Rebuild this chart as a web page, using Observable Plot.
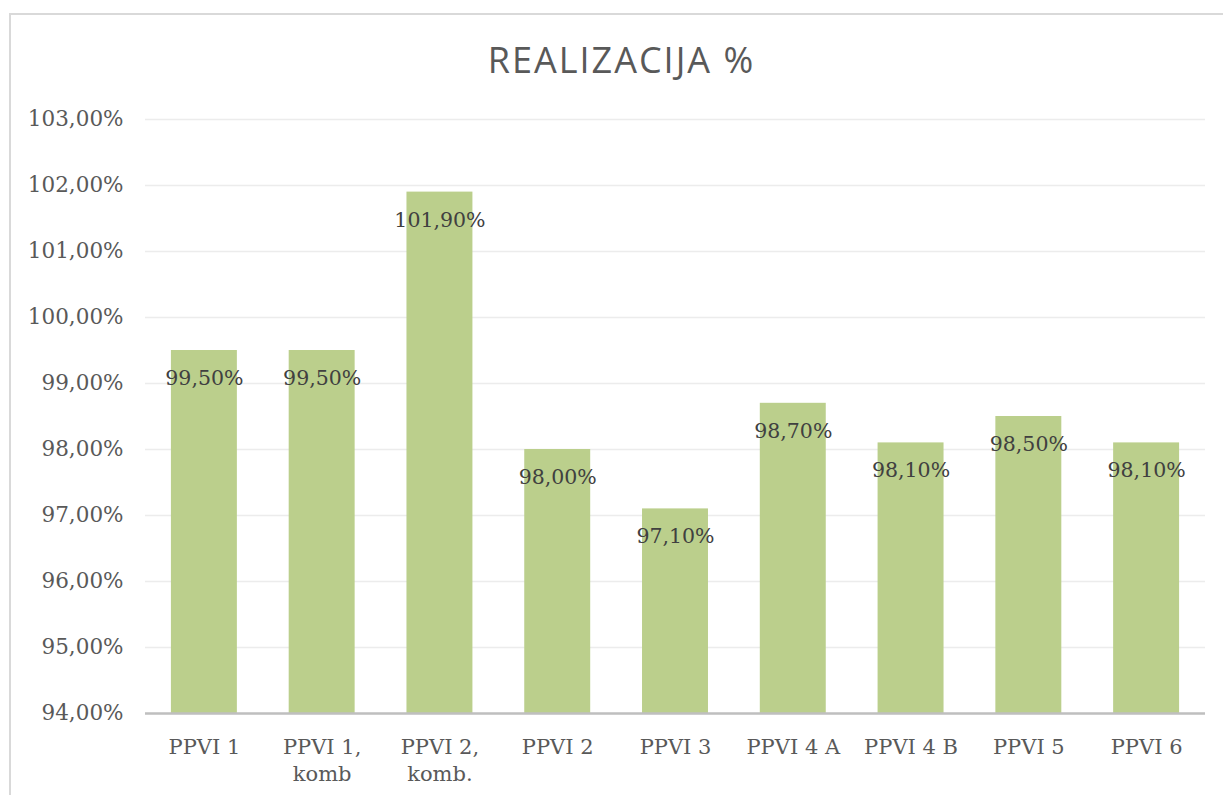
<!DOCTYPE html>
<html>
<head>
<meta charset="utf-8">
<script src="https://cdn.jsdelivr.net/npm/d3@7"></script>
<script src="https://cdn.jsdelivr.net/npm/@observablehq/plot@0.6"></script>
<style>
  html, body { margin: 0; padding: 0; background: #fff; }
  #wrap { position: relative; width: 1223px; height: 795px; overflow: hidden; }
  #frame { position: absolute; left: 9px; top: 13px; width: 1240px; height: 800px; border: 2px solid #d9d9d9; box-sizing: border-box; }
  #title { position: absolute; left: 0; width: 1243px; top: 35px; text-align: center; font-family: "Open Sans", sans-serif; font-size: 36px; color: #595959; letter-spacing: 2px; }
  #chart { position: absolute; left: 0; top: 0; }
</style>
</head>
<body>
<div id="wrap">
  <div id="frame"></div>
  <div id="title">REALIZACIJA %</div>
  <div id="chart"></div>
</div>
<script>
const categories = ["PPVI 1", "PPVI 1,\nkomb", "PPVI 2,\nkomb.", "PPVI 2", "PPVI 3", "PPVI 4 A", "PPVI 4 B", "PPVI 5", "PPVI 6"];
const values = [99.5, 99.5, 101.9, 98.0, 97.1, 98.7, 98.1, 98.5, 98.1];
const yTicks = [94, 95, 96, 97, 98, 99, 100, 101, 102, 103];

const fmt = v => v.toFixed(2).replace(".", ",") + "%";
const data = categories.map((c, i) => ({ cat: c, val: values[i] }));
const serif = "'DejaVu Serif', serif";

const chart = Plot.plot({
  width: 1223,
  height: 795,
  marginTop: 119,
  marginBottom: 82,
  marginLeft: 145,
  marginRight: 18,
  style: { fontFamily: serif, fontSize: "21px", color: "#595959", background: "transparent", overflow: "visible" },
  x: { domain: categories, paddingInner: 0.44, paddingOuter: 0.22, round: false, label: null },
  y: { domain: [94, 103], label: null },
  marks: [
    Plot.gridY(yTicks, { stroke: "#ececec", strokeOpacity: 1, strokeWidth: 1.5 }),
    Plot.barY(data, { x: "cat", y1: 94, y2: "val", fill: "#bbcf8c" }),
    Plot.ruleY([94], { stroke: "#bfbfbf", strokeWidth: 2.5 }),
    Plot.text(data, { x: "cat", y: "val", text: d => fmt(d.val), dy: 28, fill: "#404040", fontSize: 20.5, fontFamily: serif }),
    Plot.axisY(yTicks, { tickSize: 0, tickPadding: 22, tickFormat: fmt, fontSize: 21.5, fill: "#595959" }),
    Plot.axisX({ tickSize: 0, tickPadding: 21, fontSize: 21, fill: "#595959", lineHeight: 1.3 })
  ]
});
document.getElementById("chart").appendChild(chart);
</script>
</body>
</html>
